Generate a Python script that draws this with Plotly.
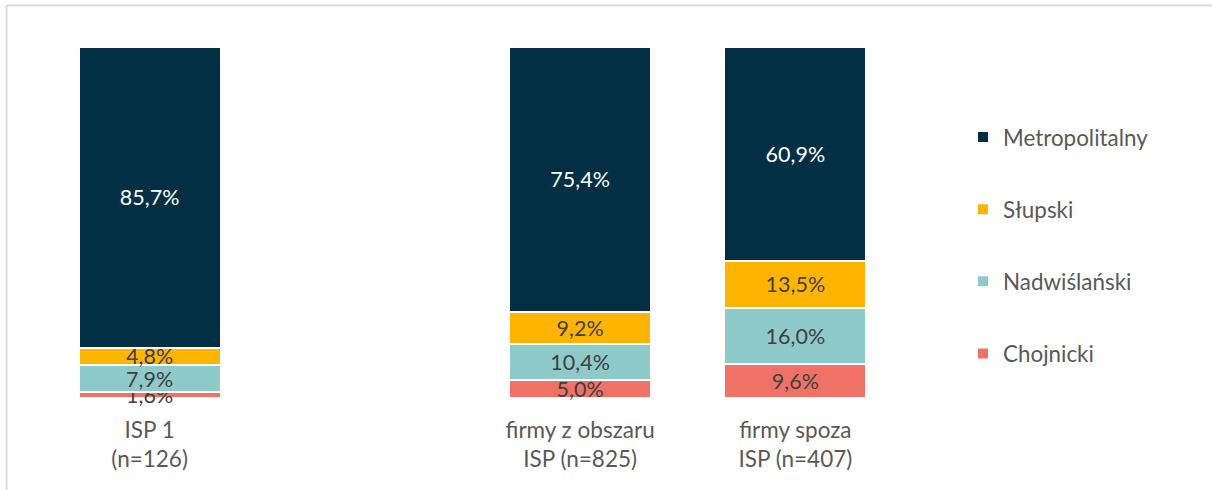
import plotly.graph_objects as go

categories = ["ISP 1<br>(n=126)", " ", "firmy z obszaru<br>ISP (n=825)", "firmy spoza<br>ISP (n=407)"]
series_names = ["Chojnicki", "Nadwiślański", "Słupski", "Metropolitalny"]
chojnicki = [1.6, None, 5.0, 9.6]
nadwislanski = [7.9, None, 10.4, 16.0]
slupski = [4.8, None, 9.2, 13.5]
metropolitalny = [85.7, None, 75.4, 60.9]

colors = {
    "Chojnicki": "#F07266",
    "Nadwiślański": "#8FCACB",
    "Słupski": "#FFB500",
    "Metropolitalny": "#032F45",
}
text_colors = {
    "Chojnicki": "#404040",
    "Nadwiślański": "#404040",
    "Słupski": "#404040",
    "Metropolitalny": "#FFFFFF",
}
legend_ranks = {"Metropolitalny": 1, "Słupski": 2, "Nadwiślański": 3, "Chojnicki": 4}
values = [chojnicki, nadwislanski, slupski, metropolitalny]

FONT = "Lato, 'Open Sans', sans-serif"

fig = go.Figure()
for name, vals in zip(series_names, values):
    fig.add_trace(go.Bar(
        name=name,
        x=categories,
        y=vals,
        marker=dict(color=colors[name], line=dict(color="#FFFFFF", width=2)),
        texttemplate="%{y:.1f}%",
        textposition="inside",
        insidetextanchor="middle",
        textfont=dict(color=text_colors[name], size=21.5, family=FONT),
        cliponaxis=False,
        legendgroup=name,
        legendrank=legend_ranks[name],
        hoverinfo="skip",
    ))

L, T, B, R = 42, 47, 92, 309
plot_w = 1212 - L - R
plot_h = 490 - T - B

fig.update_layout(
    barmode="stack",
    bargap=0.34,
    separators=", ",
    width=1212,
    height=490,
    margin=dict(l=L, r=R, t=T, b=B, autoexpand=False),
    paper_bgcolor="#FFFFFF",
    plot_bgcolor="#FFFFFF",
    font=dict(family=FONT, color="#595959", size=22),
    uniformtext=dict(minsize=21.5, mode="show"),
    showlegend=True,
    legend=dict(
        traceorder="grouped",
        tracegroupgap=40,
        x=(963 - L) / plot_w,
        xanchor="left",
        y=1 - (116 - T) / plot_h,
        yanchor="top",
        font=dict(size=22.4, color="#595959", family=FONT),
        itemwidth=30,
    ),
    xaxis=dict(
        showline=False, showgrid=False, zeroline=False, ticks="",
        tickfont=dict(size=22.5, color="#595959", family=FONT),
        ticklabelstandoff=16,
        fixedrange=True,
    ),
    yaxis=dict(visible=False, range=[0, 100], fixedrange=True),
    shapes=[
        dict(type="line", xref="paper", yref="paper",
             x0=(6.5 - L) / plot_w, x1=1.5,
             y0=1 + (T - 5.5) / plot_h, y1=1 + (T - 5.5) / plot_h,
             line=dict(color="#D9D9D9", width=2)),
        dict(type="line", xref="paper", yref="paper",
             x0=(6.5 - L) / plot_w, x1=(6.5 - L) / plot_w,
             y0=1 + (T - 5.5) / plot_h, y1=-0.5,
             line=dict(color="#D9D9D9", width=2)),
    ],
)

fig.write_html(
    "out.html",
    config={"displayModeBar": False, "staticPlot": True},
    post_script="document.body.style.margin='0';document.body.style.overflow='hidden';",
)
